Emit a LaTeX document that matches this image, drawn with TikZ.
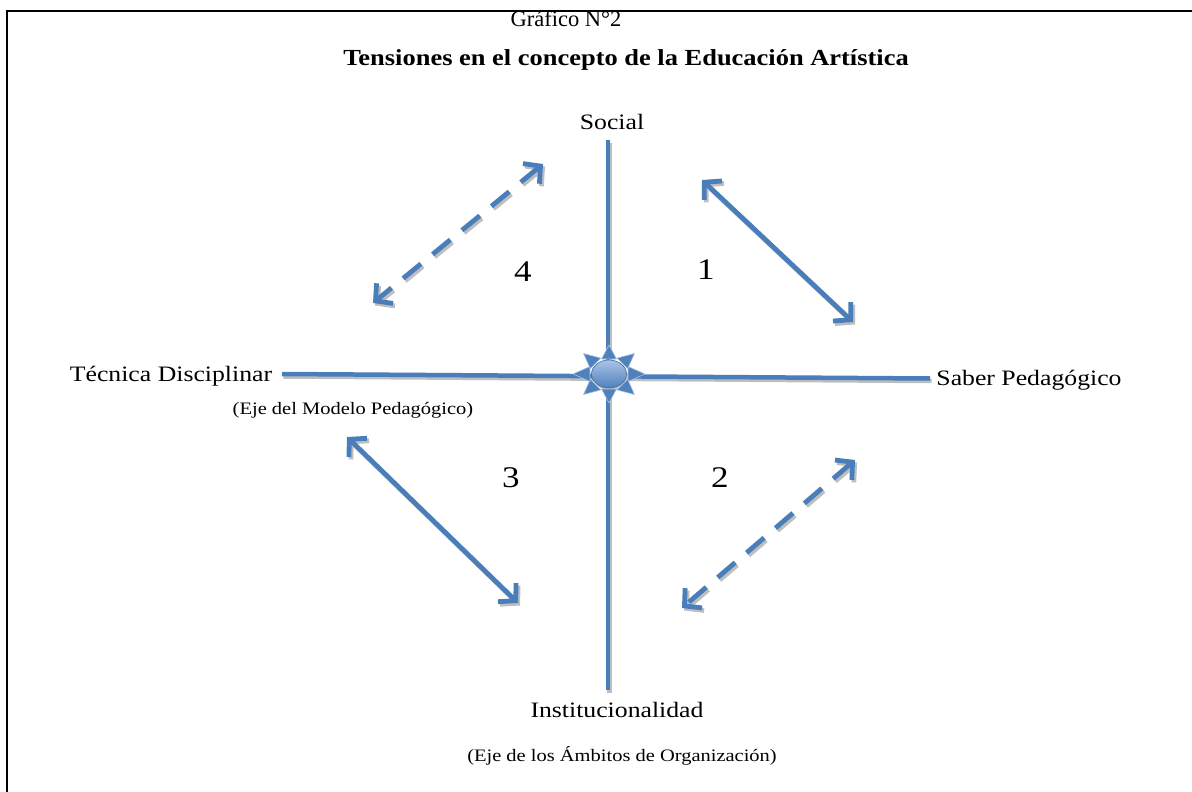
\documentclass[tikz,border=0pt]{standalone}
\usepackage{fontspec}
\setmainfont{Liberation Serif}
\newfontfamily\camb[FakeStretch=1.17]{Liberation Serif}
\newfontfamily\ttl[FakeStretch=1.15]{Liberation Serif}
\usetikzlibrary{arrows.meta,calc}
\definecolor{axblue}{RGB}{74,126,187}
\definecolor{shad}{RGB}{190,190,190}
\definecolor{suntop}{RGB}{170,195,230}
\definecolor{sunbot}{RGB}{79,129,189}
\begin{document}
\begin{tikzpicture}[x=1pt,y=-1pt,
  axisline/.style={line width=4.5pt, axblue},
  axisshadow/.style={line width=4.5pt, shad, transform canvas={shift={(1.5pt,-2.5pt)}}},
  barbs/.style={{Straight Barb[length=12pt,width=26pt]}-{Straight Barb[length=12pt,width=26pt]}},
  tarrow/.style={line width=4.8pt, axblue, barbs},
  tshadow/.style={line width=4.8pt, shad, barbs, transform canvas={shift={(2pt,-2.5pt)}}},
  dashpat/.style={dash pattern=on 23pt off 15pt},
  lbl/.style={font=\camb\fontsize{22}{25}\selectfont, inner sep=0pt},
  sublbl/.style={font=\camb\fontsize{17.5}{20}\selectfont, inner sep=0pt},
  num/.style={font=\camb\fontsize{30}{33}\selectfont, inner sep=0pt}]
\useasboundingbox (0,0) rectangle (1192,792);
\fill[white] (0,0) rectangle (1192,792);
% frame
\draw[line width=2.6pt, line cap=rect] (7,794) -- (7,11) -- (1194,11);
% titles
\node[inner sep=0pt, font=\fontsize{22.5}{26}\selectfont] (t1) at (566,19) {Gráfico N°2};
\node[inner sep=0pt, font=\ttl\bfseries\fontsize{23}{26}\selectfont] (t2) at (626,60) {Tensiones en el concepto de la Educación Artística};
% axis labels
\node[lbl] (social) at (612,122) {Social};
\node[lbl] (tecnica) at (171,376) {Técnica Disciplinar};
\node[sublbl] (ejemod) at (353,410) {(Eje del Modelo Pedagógico)};
\node[lbl] (saber) at (1029,380) {Saber Pedagógico};
\node[lbl] (inst) at (617,710) {Institucionalidad};
\node[sublbl] (ejeamb) at (622,756) {(Eje de los Ámbitos de Organización)};
% numbers
\node[num] (n1) at (706,270) {1};
\node[num] (n2) at (720,478) {2};
\node[num] (n3) at (511,478) {3};
\node[num] (n4) at (523,272) {4};
% axis end points
\coordinate (vtop) at (608,140);
\coordinate (vbot) at (608,690);
\coordinate (hleft) at (282,374);
\coordinate (hright) at (930,378.5);
\coordinate (C) at (609,374);
% axes
\draw[axisshadow] (vtop) -- (vbot);
\draw[axisshadow] (hleft) -- (hright);
\draw[axisline] (vtop) -- (vbot);
\draw[axisline] (hleft) -- (hright);
% arrows
\coordinate (a1s) at (702,180); \coordinate (a1e) at (853,322);
\coordinate (a3s) at (347,437); \coordinate (a3e) at (518,603);
\coordinate (a4s) at (543,164); \coordinate (a4e) at (373,303);
\coordinate (a2s) at (855,460); \coordinate (a2e) at (682,608);
\draw[tshadow] (a1s) -- (a1e);
\draw[tshadow] (a3s) -- (a3e);
\draw[tshadow, dashpat] (a4s) -- (a4e);
\draw[tshadow, dashpat] (a2s) -- (a2e);
\draw[tarrow] (a1s) -- (a1e);
\draw[tarrow] (a3s) -- (a3e);
\draw[tarrow, dashpat] (a4s) -- (a4e);
\draw[tarrow, dashpat] (a2s) -- (a2e);
% sun
\fill[shad] ($(C)+(2,3)$) ellipse [x radius=17, y radius=14];
\foreach \a in {0,45,...,315}{
  \filldraw[fill=sunbot, draw=suntop, line width=0.6pt, line join=round]
    ($(C)+(\a:36 and 29)$) --
    ($(C)+(\a:19 and 15)+(\a+90:7.5)$) --
    ($(C)+(\a:19 and 15)+(\a-90:7.5)$) -- cycle;
}
\shade[top color=suntop, bottom color=sunbot, draw=sunbot!80!black, line width=0.6pt]
  (C) ellipse [x radius=17.5, y radius=14];
\end{tikzpicture}
\end{document}
